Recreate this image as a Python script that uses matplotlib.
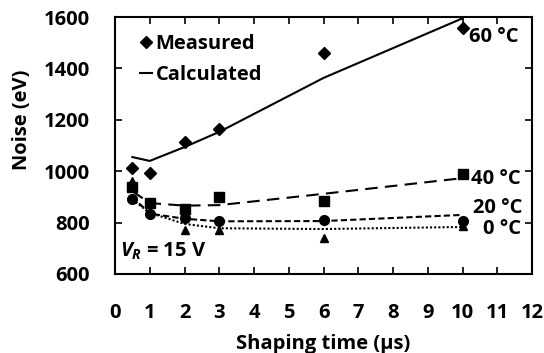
import matplotlib.pyplot as plt
from matplotlib.lines import Line2D

plt.rcParams['font.family'] = ['Open Sans', 'DejaVu Sans']
plt.rcParams['font.weight'] = 'bold'
plt.rcParams['mathtext.fontset'] = 'custom'
plt.rcParams['mathtext.it'] = 'Open Sans:bold:italic'

# tiempos de conformado (us)
t = [0.5, 1, 2, 3, 6, 10]

# medidos
med_60 = [1014, 993, 1114, 1164, 1460, 1557]
med_40 = [937, 876, 852, 900, 884, 989]
med_20 = [892, 833, 818, 806, 810, 806]
med_0 = [960, 840, 771, 771, 740, 787]

# calculados
cal_60 = [1055, 1040, 1094, 1153, 1363, 1595]
cal_40 = [922, 876, 866, 868, 912, 973]
cal_20 = [900, 835, 815, 805, 806, 830]
cal_0 = [890, 838, 795, 778, 775, 783]

etiquetas = ['60 °C', '40 °C', '20 °C', '0 °C']

fs = 14.5

fig = plt.figure(figsize=(5.44, 3.53), dpi=100)
ax = fig.add_axes([0.2114, 0.2238, 0.7666, 0.728])

ax.plot(t, cal_60, color='black', lw=1.5, ls='-')
ax.plot(t, cal_40, color='black', lw=1.5, ls=(0, (6, 3.5)))
ax.plot(t, cal_20, color='black', lw=1.5, ls=(0, (3, 1.5)))
ax.plot(t, cal_0, color='black', lw=1.5, ls=(0, (1, 1)))

ax.plot(t, med_60, 'D', color='black', ms=6, ls='none')
ax.plot(t, med_40, 's', color='black', ms=6.5, ls='none')
ax.plot(t, med_20, 'o', color='black', ms=7, ls='none')
ax.plot(t, med_0, '^', color='black', ms=6, ls='none')

ax.set_xlim(0, 12)
ax.set_ylim(600, 1600)
ax.set_xticks(range(0, 13))
ax.set_yticks(range(600, 1601, 200))
ax.tick_params(direction='in', length=5, width=1.2, top=True, right=True,
               labelsize=fs)
ax.tick_params(axis='x', pad=21)
ax.tick_params(axis='y', pad=18)
for s in ax.spines.values():
    s.set_linewidth(1.5)

ax.set_xlabel('Shaping time (µs)', fontsize=fs, fontweight='bold')
ax.set_ylabel('Noise (eV)', fontsize=fs, fontweight='bold')
ax.xaxis.set_label_coords(0.5, -0.235)
ax.yaxis.set_label_coords(-0.2, 0.6)

# etiquetas de temperatura
pos_y = [1522, 968, 857, 774]
pos_x = [10.2, 10.24, 10.3, 10.59]
for lab, xx, yy in zip(etiquetas, pos_x, pos_y):
    ax.text(xx, yy, lab, fontsize=fs, fontweight='bold', va='center', ha='left')

ax.text(0.14, 688, r'$V_R$ = 15 V', fontsize=fs,
        fontweight='bold', va='center', ha='left')

handles = [Line2D([], [], marker='D', color='black', ms=6, ls='none'),
           Line2D([], [], color='black', lw=1.5)]
ax.legend(handles, ['Measured', 'Calculated'], loc='upper left',
          frameon=False, fontsize=fs, handlelength=0.6, handletextpad=0.2,
          borderaxespad=0.2, labelspacing=0.55, bbox_to_anchor=(0.03, 0.98))

fig.savefig('out.png', dpi=100)
